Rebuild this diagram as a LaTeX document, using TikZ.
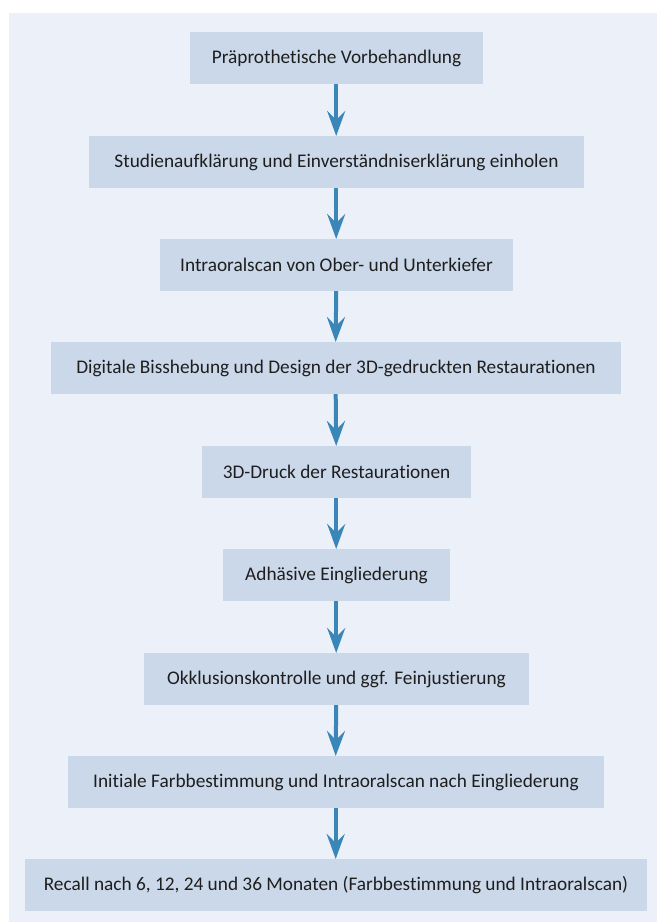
\documentclass[tikz,border=0pt]{standalone}
\usepackage{fontspec}
\setmainfont{Carlito}[Ligatures=NoCommon]
\usetikzlibrary{arrows.meta}
\definecolor{panelbg}{RGB}{236,241,249}
\definecolor{boxfill}{RGB}{203,216,234}
\definecolor{arrowblue}{RGB}{58,134,184}
\definecolor{textgrey}{RGB}{30,30,30}
\tikzset{
  stepbox/.style={fill=boxfill, draw=none, minimum height=51.7pt, inner sep=0pt,
    text=textgrey, font=\fontsize{19.3}{22}\selectfont, anchor=north},
  flowarrow/.style={draw=arrowblue, line width=4pt,
    -{Stealth[length=25pt, width=18pt, inset=9pt]}}
}
\begin{document}
\begin{tikzpicture}[x=1pt, y=-1pt]
\useasboundingbox (0,0) rectangle (657,922);
\fill[white] (0,0) rectangle (657,922);
\fill[panelbg] (9,13) rectangle (657,922);
\node[stepbox, minimum width=293pt] (b1) at (336.5,32) {Präprothetische Vorbehandlung};
\node[stepbox, minimum width=495pt] (b2) at (336.5,136) {Studienaufklärung und Einverständniserklärung einholen};
\node[stepbox, minimum width=353pt] (b3) at (336.5,239) {Intraoralscan von Ober- und Unterkiefer};
\node[stepbox, minimum width=570pt] (b4) at (336,342) {Digitale Bisshebung und Design der 3D-gedruckten Restaurationen};
\node[stepbox, minimum width=269pt] (b5) at (336.5,446) {3D-Druck der Restaurationen};
\node[stepbox, minimum width=227pt] (b6) at (336.5,549) {Adhäsive Eingliederung};
\node[stepbox, minimum width=385pt] (b7) at (336.5,653) {Okklusionskontrolle und ggf. Feinjustierung};
\node[stepbox, minimum width=536pt] (b8) at (336,756) {Initiale Farbbestimmung und Intraoralscan nach Eingliederung};
\node[stepbox, minimum width=622pt] (b9) at (336,859) {Recall nach 6, 12, 24 und 36 Monaten (Farbbestimmung und Intraoralscan)};
\foreach \a/\b in {b1/b2,b2/b3,b3/b4,b4/b5,b5/b6,b6/b7,b7/b8,b8/b9}
  \draw[flowarrow] ([xshift=-0.3pt]\a.south) -- ([xshift=-0.3pt]\b.north);
\end{tikzpicture}
\end{document}
